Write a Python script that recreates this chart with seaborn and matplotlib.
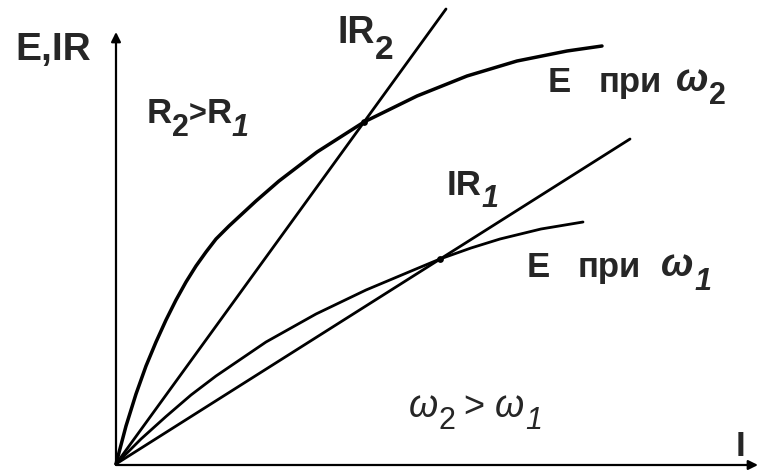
import matplotlib
matplotlib.use("Agg")
import matplotlib.pyplot as plt
import seaborn as sns
import pandas as pd

# Load characteristic E(I) of the generator at angular speed w2 (upper curve)
i_e2 = [0, 0.10, 0.20, 0.30, 0.40, 0.50, 0.60, 0.70, 0.80, 0.90, 1.00, 1.13,
        1.40, 1.63, 2.01, 2.48, 3.01, 3.51, 4.01, 4.51, 4.86]
e_e2 = [0, 0.38, 0.70, 0.98, 1.22, 1.44, 1.64, 1.82, 1.98, 2.12, 2.25, 2.38,
        2.63, 2.83, 3.12, 3.42, 3.68, 3.88, 4.03, 4.13, 4.18]

# Load characteristic E(I) at the lower angular speed w1
i_e1 = [0, 0.25, 0.50, 0.75, 1.00, 1.50, 2.00, 2.50, 3.00, 3.24, 3.55, 3.84, 4.25, 4.67]
e_e1 = [0, 0.25, 0.475, 0.69, 0.88, 1.22, 1.50, 1.74, 1.95, 2.05, 2.16, 2.25, 2.35, 2.42]

# Voltage drop lines IR for the two resistances
i_r2 = [0, 3.30]
u_r2 = [0, 4.55]
i_r1 = [0, 5.14]
u_r1 = [0, 3.25]

# Operating points where E = IR
op_i = [2.48, 3.24]
op_e = [3.42, 2.05]

sns.set_style("white")
plt.rcParams["font.family"] = ["Liberation Sans", "DejaVu Sans"]

fig = plt.figure(figsize=(7.61, 4.77), dpi=100)
ax = fig.add_axes([0, 0, 1, 1])
ax.set_xlim(-1.16, 6.45)
ax.set_ylim(-0.12, 4.65)
ax.axis("off")

curves = [
    (i_e2, e_e2, 2.5),
    (i_e1, e_e1, 2.0),
    (i_r2, u_r2, 2.0),
    (i_r1, u_r1, 2.0),
]
for xs, ys, lw in curves:
    df = pd.DataFrame({"I": xs, "E": ys})
    sns.lineplot(data=df, x="I", y="E", ax=ax, color="black", lw=lw,
                 sort=False, estimator=None, legend=False)

sns.scatterplot(x=op_i, y=op_e, ax=ax, color="black", s=24, edgecolor="black",
                linewidth=0, zorder=5, legend=False)

# Coordinate axes with arrowheads
arrow = dict(arrowstyle="-|>", lw=1.6, color="black", mutation_scale=14,
             shrinkA=0, shrinkB=0)
ax.annotate("", xy=(0, 4.32), xytext=(0, 0), arrowprops=arrow)
ax.annotate("", xy=(6.42, -0.01), xytext=(0, -0.01), arrowprops=arrow)


def label(x, y, pieces):
    """Draw a run of text pieces; each piece: (text, drop_pt, gap_pt, size, style, weight)."""
    prev = None
    prev_drop = 0
    for text, drop, gap, size, style, weight in pieces:
        if prev is None:
            prev = ax.text(x, y, text, fontsize=size, fontstyle=style,
                           fontweight=weight, ha="left", va="baseline")
        else:
            prev = ax.annotate(text, xy=(1, 0), xycoords=prev,
                               xytext=(gap, prev_drop - drop),
                               textcoords="offset points", fontsize=size,
                               fontstyle=style, fontweight=weight,
                               ha="left", va="bottom")
        prev_drop = drop


B, N, IT = "bold", "normal", "italic"
label(-1.01, 4.05, [("E,IR", 0, 0, 28, N, B)])
label(0.31, 3.42, [("R", 0, 0, 25, N, B), ("2", 9, 0, 22, N, B),
                   (">", 0, 0, 22, N, B), ("R", 0, 0, 25, N, B),
                   ("1", 9, 0, 22, IT, B)])
label(2.21, 4.22, [("IR", 0, 0, 27, N, B), ("2", 11, 0, 24, N, B)])
label(3.31, 2.70, [("IR", 0, 0, 25, N, B), ("1", 9, 0, 22, IT, B)])
label(4.32, 3.73, [("E", 0, 0, 25, N, B), ("при", 0, 20, 25, N, B),
                   ("ω", 0, 10, 28, IT, B), ("2", 9, 0, 22, N, B)])
label(4.11, 1.88, [("E", 0, 0, 25, N, B), ("при", 0, 20, 25, N, B),
                   ("ω", 0, 14, 28, IT, B), ("1", 9, 1, 22, IT, B)])
label(2.93, 0.48, [("ω", 0, 0, 27, IT, N), ("2", 8, 0, 22, N, N),
                   (">", 0, 6, 26, N, N), ("ω", 0, 7, 27, IT, N),
                   ("1", 8, 1, 22, IT, N)])
label(6.20, 0.09, [("I", 0, 0, 25, N, B)])

fig.savefig("out.png", dpi=100, facecolor="white")
